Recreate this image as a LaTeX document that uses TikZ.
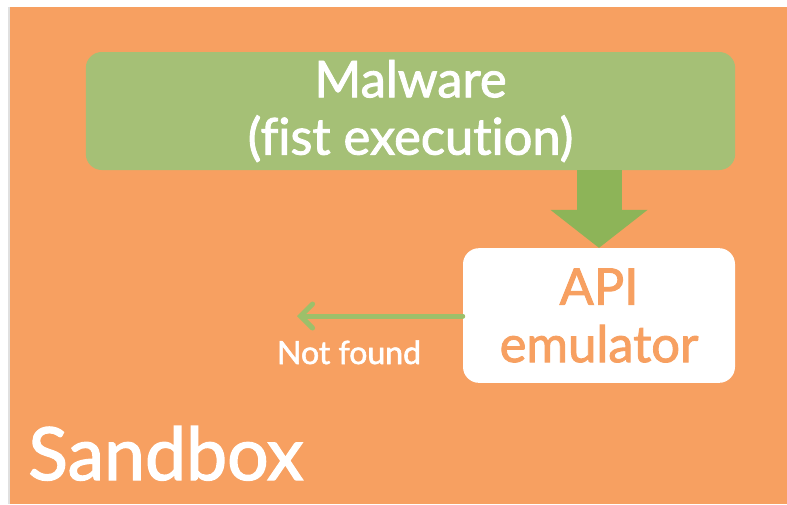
\documentclass[tikz,border=0pt]{standalone}
\usepackage{fontspec}
\setmainfont{Lato}[Ligatures=NoCommon, FakeBold=1.8]
\usepackage{tikz}
\usetikzlibrary{arrows.meta, positioning}

\definecolor{sandorange}{HTML}{F7A061}
\definecolor{malgreen}{HTML}{A5C076}
\definecolor{arrgreen}{HTML}{8DB458}
\definecolor{lightgreen}{HTML}{9CC06A}

\begin{document}
\begin{tikzpicture}[x=0.75pt, y=-0.75pt, >=Latex,
    sandbox/.style={fill=sandorange, draw=none},
    module/.style={rectangle, rounded corners=12pt, text centered, align=center, draw=none},
    fatarrow/.style={draw=arrgreen, line width=33.75pt, -{Triangle[width=71.25pt, length=28.5pt]}},
    thinarrow/.style={draw=lightgreen, line width=3.75pt, line cap=round, -{Straight Barb[length=9pt, width=18pt, line cap=round]}},
    point/.style={coordinate}]

    \useasboundingbox (0,0) rectangle (787,504);
    \fill [black!12] (8,7) rectangle (787,504);
    \fill [sandbox] (10,7) rectangle (787,504);

    \node (malware) [module, fill=malgreen, minimum width=487pt, minimum height=88.5pt, text=white,
        font=\fontsize{38}{43}\selectfont] at (410.5,111) {Malware\\(fist execution)};
    \node (api) [module, fill=white, minimum width=204pt, minimum height=101pt, text=sandorange,
        font=\fontsize{38}{43}\selectfont] at (599,315.5) {API\\emulator};

    % Malware -> API emulator
    \draw [fatarrow] (malware.south -| api.north) -- (api.north);

    % Not found
    \node (miss) [point] at (297,316) {};
    \draw [thinarrow] (api.west |- miss) -- (miss);
    \node (notfound) [text=white, font=\fontsize{24}{28}\selectfont, anchor=base] at (349,364) {Not found};

    \node (label) [text=white, font=\fontsize{55}{62}\selectfont, anchor=base west, inner sep=0pt] at (28,480) {Sandbox};

\end{tikzpicture}
\end{document}
